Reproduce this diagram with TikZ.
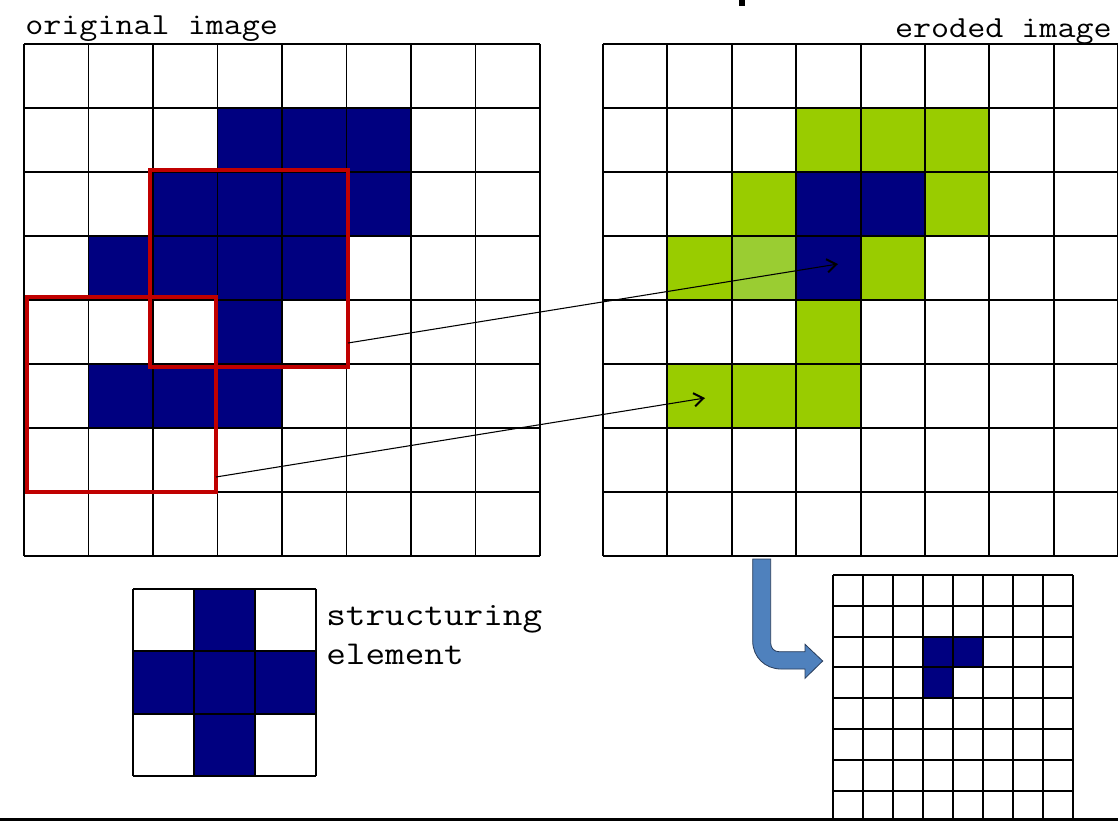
\documentclass[tikz,border=0pt]{standalone}
\usepackage{fontspec}
\usetikzlibrary{arrows.meta}
\definecolor{cellnavy}{RGB}{0,0,128}
\definecolor{cellgreen}{RGB}{153,204,0}
\definecolor{celllight}{RGB}{154,205,50}
\definecolor{winred}{RGB}{192,0,0}
\definecolor{bendblue}{RGB}{79,129,189}
\definecolor{bendedge}{RGB}{40,60,90}
\definecolor{baseline}{RGB}{43,43,43}
\begin{document}
\begin{tikzpicture}[x=0.75pt,y=-0.75pt,
  gridline/.style={line width=1.4pt},
  window/.style={draw=winred,line width=3pt},
  pointer/.style={-{Straight Barb[length=7pt,width=10pt,line width=1.5pt]},line width=0.8pt},
  imgtitle/.style={font=\ttfamily\fontsize{23}{28}\selectfont,inner sep=0pt,xscale=1.143},
  setitle/.style={font=\ttfamily\fontsize{25}{30}\selectfont,inner sep=0pt,xscale=1.143}]
\useasboundingbox (0,0) rectangle (1118,821);
\fill[white] (0,0) rectangle (1118,821);

% original image
\foreach \c/\r in {3/1,4/1,5/1,2/2,3/2,4/2,5/2,1/3,2/3,3/3,4/3,3/4,1/5,2/5,3/5}
  \fill[cellnavy] ({24+64.5*\c},{44+64*\r}) rectangle ++(64.5,64);
\foreach \i in {0,...,8} {
  \draw[gridline] ({24+64.5*\i},44) -- ({24+64.5*\i},556);
  \draw[gridline] (24,{44+64*\i}) -- (540,{44+64*\i});
}
\node[imgtitle,anchor=base west] (orig) at (25,35) {original image};

% eroded image
\foreach \c/\r in {3/1,4/1,5/1,2/2,5/2,1/3,4/3,3/4,1/5,2/5,3/5}
  \fill[cellgreen] ({603+64.4*\c},{44+64*\r}) rectangle ++(64.4,64);
\fill[celllight] ({603+64.4*2},{44+64*3}) rectangle ++(64.4,64);
\foreach \c/\r in {3/2,4/2,3/3}
  \fill[cellnavy] ({603+64.4*\c},{44+64*\r}) rectangle ++(64.4,64);
\foreach \i in {0,...,8} {
  \draw[gridline] ({603+64.4*\i},44) -- ({603+64.4*\i},556);
  \draw[gridline] (603,{44+64*\i}) -- (1118,{44+64*\i});
}
\node[imgtitle,anchor=base east] (eroded) at (1112,37) {eroded image};

% structuring element
\foreach \c/\r in {1/0,0/1,1/1,2/1,1/2}
  \fill[cellnavy] ({133+61*\c},{589+62.3*\r}) rectangle ++(61,62.3);
\foreach \i in {0,...,3} {
  \draw[gridline] ({133+61*\i},589) -- ({133+61*\i},776);
  \draw[gridline] (133,{589+62.3*\i}) -- (316,{589+62.3*\i});
}
\node[setitle,anchor=base west] (se1) at (326,625) {structuring};
\node[setitle,anchor=base west] (se2) at (326,664) {element};

% result grid
\foreach \c/\r in {3/2,4/2,3/3}
  \fill[cellnavy] ({833+30*\c},{575+30.8*\r}) rectangle ++(30,30.8);
\foreach \i in {0,...,8} {
  \draw[gridline] ({833+30*\i},575) -- ({833+30*\i},821);
  \draw[gridline] (833,{575+30.8*\i}) -- (1073,{575+30.8*\i});
}

% windows
\draw[window] (150,170) rectangle (348,367);
\draw[window] (27,297) rectangle (216,492);

\coordinate (winA) at (348,343);
\coordinate (outA) at (838,264);
\coordinate (winB) at (216,477);
\coordinate (outB) at (705,398);
\draw[pointer] (winA) -- (outA);
\draw[pointer] (winB) -- (outB);

% bent arrow
\filldraw[fill=bendblue,draw=bendedge,line width=0.6pt]
  (752.7,559) -- (752.7,641) .. controls (752.7,657) and (765,669) .. (781,669)
  -- (805,669) -- (805,678.3) -- (822.7,661) -- (805,644.3) -- (805,651.7)
  -- (779,651.7) .. controls (774,651.7) and (770.7,648) .. (770.7,643)
  -- (770.7,559) -- cycle;

% cut off bits at the edges
\fill (739,0) rectangle (744.5,6);
\fill[baseline] (0,818) rectangle (1118,821);
\end{tikzpicture}
\end{document}
